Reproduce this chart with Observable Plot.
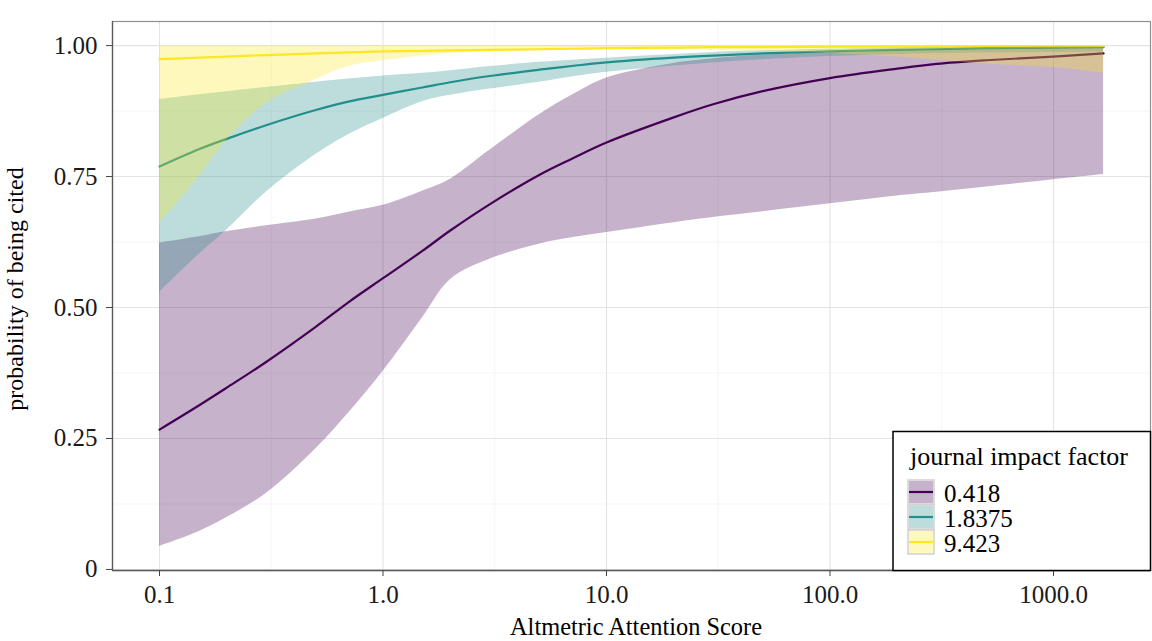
<!DOCTYPE html>
<html>
<head>
<meta charset="utf-8">
<script src="https://cdn.jsdelivr.net/npm/d3@7"></script>
<script src="https://cdn.jsdelivr.net/npm/@observablehq/plot@0.6"></script>
<style>
  html, body { margin: 0; padding: 0; background: #fff; }
  #chart { width: 1152px; height: 641px; }
</style>
</head>
<body>
<div id="chart"></div>
<script>
// ---- data ----
const scores = [0.1, 0.15, 0.2, 0.3, 0.5, 0.7, 1, 1.5, 2, 3, 5, 7, 10, 20, 30, 50, 100, 200, 300, 500, 1000, 1675];

const factors = ["0.418", "1.8375", "9.423"];
const lineColors = ["#440154", "#21908C", "#FDE725"];

const fit0418 = [0.267, 0.313, 0.347, 0.396, 0.463, 0.510, 0.556, 0.608, 0.647, 0.697, 0.753, 0.784, 0.815, 0.863, 0.888, 0.913, 0.938, 0.956, 0.965, 0.972, 0.979, 0.985];
const lo0418  = [0.044, 0.072, 0.099, 0.145, 0.230, 0.298, 0.378, 0.480, 0.553, 0.592, 0.621, 0.633, 0.643, 0.662, 0.672, 0.683, 0.698, 0.713, 0.720, 0.730, 0.744, 0.754];
const hi0418  = [0.623, 0.635, 0.645, 0.656, 0.669, 0.682, 0.695, 0.722, 0.745, 0.800, 0.868, 0.905, 0.938, 0.966, 0.975, 0.982, 0.987, 0.990, 0.992, 0.993, 0.995, 0.996];

const fit18375 = [0.769, 0.802, 0.822, 0.848, 0.877, 0.893, 0.906, 0.920, 0.930, 0.942, 0.954, 0.961, 0.968, 0.977, 0.981, 0.985, 0.989, 0.992, 0.993, 0.995, 0.996, 0.997];
const lo18375  = [0.529, 0.601, 0.648, 0.720, 0.792, 0.830, 0.861, 0.893, 0.905, 0.917, 0.930, 0.940, 0.949, 0.961, 0.967, 0.973, 0.979, 0.983, 0.985, 0.986, 0.987, 0.988];
const hi18375  = [0.897, 0.906, 0.912, 0.920, 0.930, 0.936, 0.942, 0.947, 0.952, 0.960, 0.968, 0.972, 0.976, 0.983, 0.987, 0.990, 0.993, 0.995, 0.996, 0.997, 0.998, 0.998];

const fit9423 = [0.974, 0.977, 0.979, 0.982, 0.985, 0.987, 0.989, 0.990, 0.991, 0.992, 0.993, 0.994, 0.995, 0.996, 0.997, 0.997, 0.998, 0.998, 0.998, 0.999, 0.999, 0.999];
const lo9423  = [0.660, 0.749, 0.820, 0.890, 0.935, 0.960, 0.971, 0.980, 0.985, 0.988, 0.990, 0.991, 0.992, 0.992, 0.991, 0.989, 0.985, 0.978, 0.972, 0.965, 0.958, 0.947];
const hi9423  = [0.999, 0.999, 0.999, 0.999, 0.999, 0.999, 1.000, 1.000, 1.000, 1.000, 1.000, 1.000, 1.000, 1.000, 1.000, 1.000, 1.000, 1.000, 1.000, 1.000, 1.000, 1.000];

const xTicks = [0.1, 1, 10, 100, 1000];
const xTickLabels = ["0.1", "1.0", "10.0", "100.0", "1000.0"];
const xMinor = [0.3162, 3.162, 31.62, 316.2];
const yTicks = [0, 0.25, 0.5, 0.75, 1];
const yTickLabels = ["0", "0.25", "0.50", "0.75", "1.00"];
const yMinor = [0.125, 0.375, 0.625, 0.875];

const xTitle = "Altmetric Attention Score";
const yTitle = "probability of being cited";
const legendTitle = "journal impact factor";

// ---- build table ----
const seriesFit = [fit0418, fit18375, fit9423];
const seriesLo = [lo0418, lo18375, lo9423];
const seriesHi = [hi0418, hi18375, hi9423];
const rows = [];
factors.forEach((f, k) => {
  scores.forEach((s, i) => {
    rows.push({score: s, factor: f, fit: seriesFit[k][i], lo: seriesLo[k][i], hi: seriesHi[k][i]});
  });
});

const xLab = new Map(xTicks.map((d, i) => [d, xTickLabels[i]]));
const yLab = new Map(yTicks.map((d, i) => [d, yTickLabels[i]]));

const xDomain = [Math.pow(10, -1.2103), Math.pow(10, 3.434)];
const yDomain = [-0.002, 1.046];
const FONT = "'Liberation Serif', 'Times New Roman', serif";
const FS = 25;

const plot = Plot.plot({
  width: 1152,
  height: 641,
  marginLeft: 112,
  marginRight: 2,
  marginTop: 21,
  marginBottom: 71,
  style: {fontFamily: FONT, fontSize: FS + "px", background: "#fff", color: "#1a1a1a"},
  x: {type: "log", domain: xDomain},
  y: {domain: yDomain},
  color: {domain: factors, range: lineColors},
  marks: [
    Plot.gridX(xMinor, {stroke: "#f1f1f1", strokeOpacity: 1, strokeWidth: 0.7}),
    Plot.gridY(yMinor, {stroke: "#f1f1f1", strokeOpacity: 1, strokeWidth: 0.7}),
    Plot.gridX(xTicks, {stroke: "#e4e4e4", strokeOpacity: 1, strokeWidth: 1.1}),
    Plot.gridY(yTicks, {stroke: "#e4e4e4", strokeOpacity: 1, strokeWidth: 1.1}),
    Plot.lineY(rows, {x: "score", y: "fit", z: "factor", stroke: "factor", strokeWidth: 2.2, curve: "catmull-rom"}),
    Plot.areaY(rows, {x: "score", y1: "lo", y2: "hi", z: "factor", fill: "factor", fillOpacity: 0.3, curve: "catmull-rom"}),
    Plot.frame({stroke: "#8f8f8f", strokeWidth: 1.2}),
    Plot.ruleX([xDomain[0]], {stroke: "#5a5a5a", strokeWidth: 1.3}),
    Plot.ruleY([yDomain[0]], {stroke: "#5a5a5a", strokeWidth: 1.3}),
    Plot.axisX(xTicks, {tickFormat: d => xLab.get(d), tickSize: 6, tickPadding: 9, stroke: "#444", fill: "#1a1a1a", label: null, fontSize: FS}),
    Plot.axisY(yTicks, {tickFormat: d => yLab.get(d), tickSize: 6, tickPadding: 9, stroke: "#444", fill: "#1a1a1a", label: null, fontSize: FS})
  ]
});

const svg = d3.select(plot);

// axis titles
svg.append("text")
  .attr("x", 636).attr("y", 635)
  .attr("text-anchor", "middle")
  .style("font-family", FONT).style("font-size", "24.4px").attr("fill", "#000")
  .text(xTitle);
svg.append("text")
  .attr("transform", "translate(23,289) rotate(-90)")
  .attr("text-anchor", "middle")
  .style("font-family", FONT).style("font-size", "24px").attr("fill", "#000")
  .text(yTitle);

// legend (inside panel, bottom right)
const lg = svg.append("g").attr("text-anchor", "start");
lg.append("rect")
  .attr("x", 893).attr("y", 431.5).attr("width", 257.5).attr("height", 139)
  .attr("fill", "#fff").attr("stroke", "#000").attr("stroke-width", 1.5);
lg.append("text")
  .attr("x", 910).attr("y", 465).attr("text-anchor", "start")
  .style("font-family", FONT).style("font-size", "26px").attr("fill", "#000")
  .text(legendTitle);
factors.forEach((f, k) => {
  const y0 = 480 + k * 25;
  lg.append("rect").attr("x", 908).attr("y", y0).attr("width", 26).attr("height", 24)
    .attr("fill", "#fff").attr("stroke", "#cfcfcf").attr("stroke-width", 1.5);
  lg.append("rect").attr("x", 909).attr("y", y0 + 1).attr("width", 24).attr("height", 22)
    .attr("fill", lineColors[k]).attr("fill-opacity", 0.3);
  lg.append("line").attr("x1", 909).attr("x2", 933).attr("y1", y0 + 12).attr("y2", y0 + 12)
    .attr("stroke", lineColors[k]).attr("stroke-width", 2.2);
  lg.append("text")
    .attr("x", 944).attr("y", y0 + 22).attr("text-anchor", "start")
    .style("font-family", FONT).style("font-size", "25px").attr("fill", "#000")
    .text(f);
});

document.getElementById("chart").appendChild(plot);
</script>
</body>
</html>
